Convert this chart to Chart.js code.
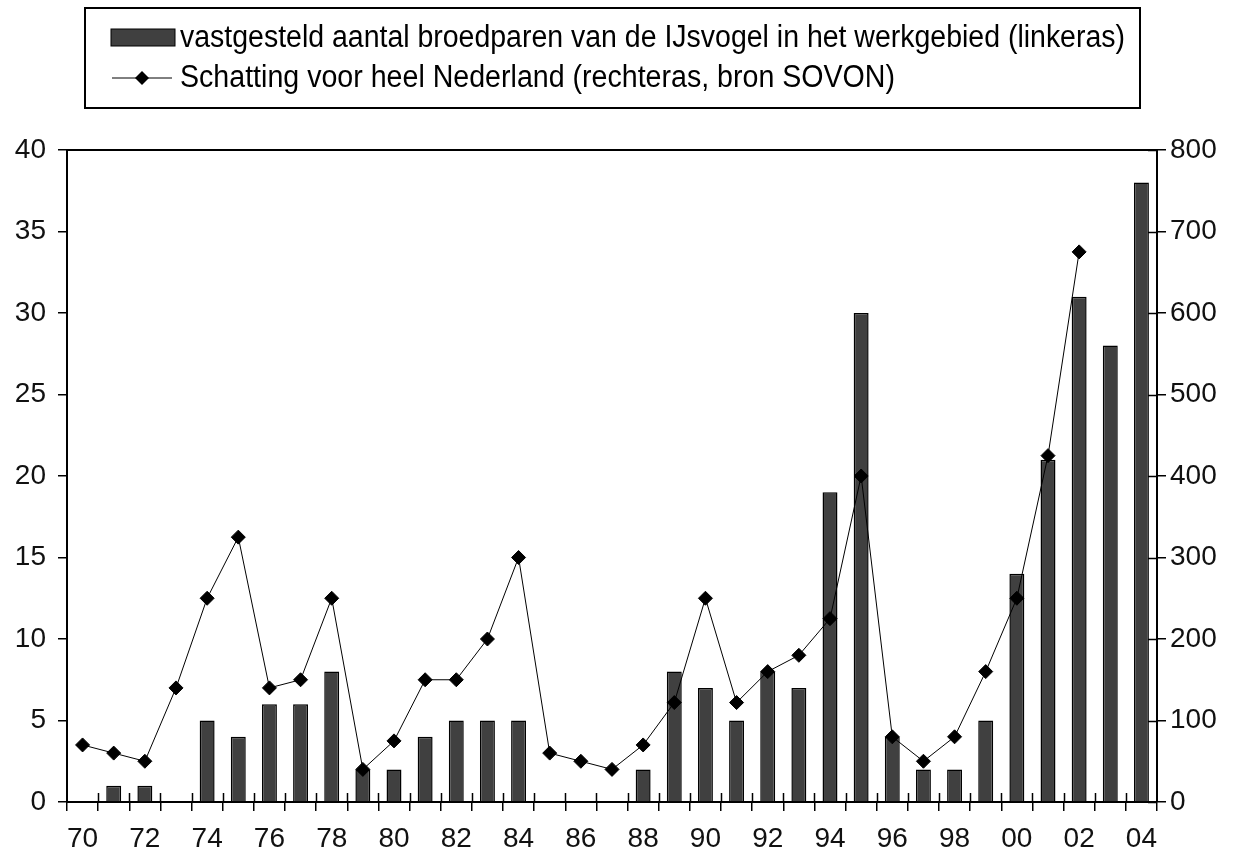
<!DOCTYPE html>
<html>
<head>
<meta charset="utf-8">
<script src="https://cdn.jsdelivr.net/npm/chart.js@4.4.1/dist/chart.umd.min.js"></script>
<style>
  html, body { margin: 0; padding: 0; background: #fff; }
  #wrap { width: 1233px; height: 863px; }
</style>
</head>
<body>
<div id="wrap"><canvas id="ijsvogelChart" width="1233" height="863"></canvas></div>
<script>
  const years = ['70','71','72','73','74','75','76','77','78','79','80','81','82','83','84','85','86','87','88','89',
                 '90','91','92','93','94','95','96','97','98','99','00','01','02','03','04'];
  // broedparen in het werkgebied (linkeras)
  const broedparen = [0, 1, 1, 0, 5, 4, 6, 6, 8, 2, 2, 4, 5, 5, 5, 0, 0, 0, 2, 8,
                      7, 5, 8, 7, 19, 30, 4, 2, 2, 5, 14, 21, 31, 28, 38];
  // schatting heel Nederland (rechteras)
  const nederland = [70, 60, 50, 140, 250, 325, 140, 150, 250, 40, 75, 150, 150, 200, 300, 60, 50, 40, 70, 122,
                     250, 122, 160, 180, 225, 400, 80, 50, 80, 160, 250, 425, 675, null, null];
  const leftTicks = [0, 5, 10, 15, 20, 25, 30, 35, 40];
  const rightTicks = [0, 100, 200, 300, 400, 500, 600, 700, 800];

  const fontFam = '"Liberation Sans", Arial, sans-serif';

  // legend box, top frame line and the inner tick marks drawn by hand
  const framePlugin = {
    id: 'framePlugin',
    afterDraw(chart) {
      const ctx = chart.ctx;
      const a = chart.chartArea;
      ctx.save();
      ctx.strokeStyle = '#000';
      ctx.lineWidth = 2;
      ctx.beginPath();
      ctx.moveTo(a.left, a.top);
      ctx.lineTo(a.right, a.top);
      ctx.stroke();

      // tick marks crossing the x axis and right axis
      ctx.lineWidth = 1.5;
      const n = years.length;
      const step = (a.right - a.left) / n;
      ctx.beginPath();
      for (let i = 1; i < n; i++) {
        const x = Math.round(a.left + i * step) + 0.5;
        ctx.moveTo(x, a.bottom);
        ctx.lineTo(x, a.bottom - 9);
      }
      const y2 = chart.scales.y2;
      rightTicks.forEach(function(v) {
        const y = Math.round(y2.getPixelForValue(v)) + 0.5;
        ctx.moveTo(a.right, y);
        ctx.lineTo(a.right - 9, y);
      });
      ctx.stroke();

      // legend
      ctx.lineWidth = 2;
      ctx.strokeRect(85, 8, 1055, 100);
      ctx.font = '31px ' + fontFam;
      ctx.textBaseline = 'middle';
      const ds = chart.data.datasets;
      // bar swatch
      ctx.fillStyle = '#404040';
      ctx.fillRect(111, 29, 64, 17);
      ctx.lineWidth = 1;
      ctx.strokeRect(111, 29, 64, 17);
      // line swatch
      ctx.beginPath();
      ctx.moveTo(112, 78);
      ctx.lineTo(172, 78);
      ctx.stroke();
      ctx.fillStyle = '#000';
      ctx.beginPath();
      ctx.moveTo(142, 71); ctx.lineTo(149, 78); ctx.lineTo(142, 85); ctx.lineTo(135, 78);
      ctx.closePath();
      ctx.fill();

      const texts = [ds[1].label, ds[0].label];
      const ys = [38, 78];
      const widths = [945, 715];
      texts.forEach(function(t, i) {
        const w = ctx.measureText(t).width;
        ctx.save();
        ctx.translate(180, ys[i]);
        ctx.scale(widths[i] / w, 1);
        ctx.fillText(t, 0, 0);
        ctx.restore();
      });
      ctx.restore();
    }
  };

  const config = {
    data: {
      labels: years,
      datasets: [
        {
          type: 'line',
          label: 'Schatting voor heel Nederland (rechteras, bron SOVON)',
          data: nederland,
          yAxisID: 'y2',
          borderColor: '#000',
          borderWidth: 1,
          pointStyle: 'rectRot',
          pointRadius: 7,
          pointBackgroundColor: '#000',
          pointBorderColor: '#000',
          tension: 0,
          order: 0
        },
        {
          type: 'bar',
          label: 'vastgesteld aantal broedparen van de IJsvogel in het werkgebied (linkeras)',
          data: broedparen,
          yAxisID: 'y',
          backgroundColor: '#404040',
          borderColor: '#000',
          borderWidth: 1.5,
          categoryPercentage: 1,
          barPercentage: 0.48,
          order: 1
        }
      ]
    },
    options: {
      responsive: false,
      animation: false,
      layout: { padding: { top: 150, left: 0, right: 0, bottom: 0 } },
      plugins: {
        legend: { display: false },
        tooltip: { enabled: false }
      },
      scales: {
        x: {
          offset: true,
          grid: { offset: true, drawOnChartArea: false, drawTicks: true, tickLength: 9, color: '#000', lineWidth: 1.5 },
          border: { color: '#000', width: 2 },
          ticks: {
            autoSkip: false,
            maxRotation: 0,
            padding: 11,
            color: '#111',
            font: { family: fontFam, size: 28 },
            callback: function(val, idx) { return idx % 2 === 0 ? years[idx] : ''; }
          },
          afterFit: function(scale) { scale.height = 61; }
        },
        y: {
          position: 'left',
          min: 0,
          max: 40,
          afterBuildTicks: function(scale) { scale.ticks = leftTicks.map(v => ({ value: v })); },
          grid: { drawOnChartArea: false, tickLength: 9, color: '#000', lineWidth: 1.5 },
          border: { color: '#000', width: 2 },
          ticks: { padding: 12, color: '#111', font: { family: fontFam, size: 28 } },
          afterFit: function(scale) { scale.width = 67; }
        },
        y2: {
          position: 'right',
          min: 0,
          max: 800,
          afterBuildTicks: function(scale) { scale.ticks = rightTicks.map(v => ({ value: v })); },
          grid: { drawOnChartArea: false, tickLength: 9, color: '#000', lineWidth: 1.5 },
          border: { color: '#000', width: 2 },
          ticks: { padding: 4, color: '#111', font: { family: fontFam, size: 28 } },
          afterFit: function(scale) { scale.width = 76; }
        }
      }
    },
    plugins: [framePlugin]
  };

  window.onload = function() {
    const ctx = document.getElementById('ijsvogelChart').getContext('2d');
    new Chart(ctx, config);
  };
</script>
</body>
</html>
